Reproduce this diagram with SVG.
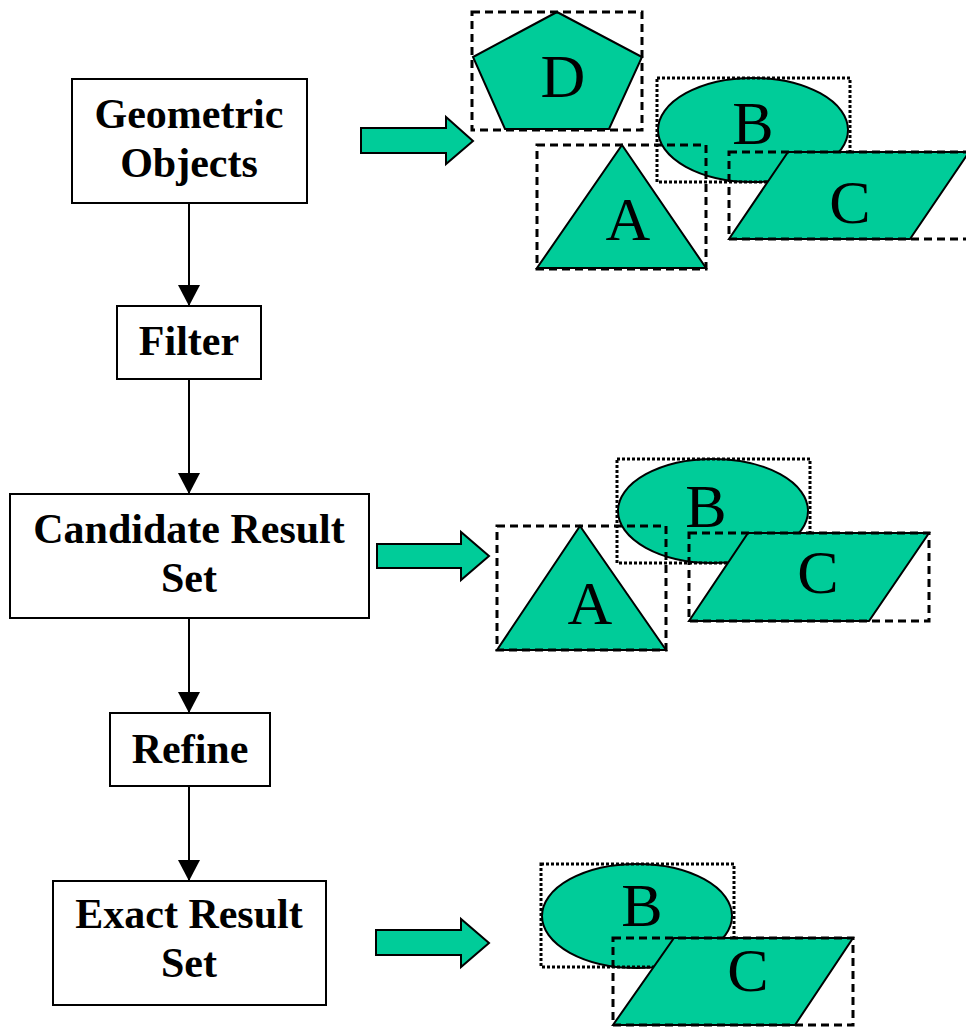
<svg xmlns="http://www.w3.org/2000/svg" width="966" height="1027" viewBox="0 0 966 1027">
<style>
.box{fill:#fff;stroke:#000;stroke-width:2}
.lbl{font-family:"Liberation Serif","Times New Roman",serif;font-weight:bold;font-size:42px;text-anchor:middle;fill:#000}
.shp{fill:#00CC99;stroke:#000;stroke-width:2;stroke-linejoin:miter}
.let{font-family:"Liberation Serif","Times New Roman",serif;font-size:62px;text-anchor:middle;fill:#000}
.dash{fill:none;stroke:#000;stroke-width:3;stroke-dasharray:8 5}
.dot{fill:none;stroke:#000;stroke-width:3;stroke-dasharray:3 2}
.conn{stroke:#000;stroke-width:2;fill:none}
.big{fill:#00CC99;stroke:#000;stroke-width:2;stroke-linejoin:miter}
</style>
<defs>
<marker id="ah" markerUnits="userSpaceOnUse" markerWidth="22" markerHeight="22" refX="21" refY="11" orient="auto">
<path d="M0,0 L21,11 L0,22 Z" fill="#000"/>
</marker>
</defs>
<g id="connectors">
<line class="conn" x1="189" y1="203" x2="189" y2="306" marker-end="url(#ah)"/>
<line class="conn" x1="189" y1="379" x2="189" y2="494" marker-end="url(#ah)"/>
<line class="conn" x1="189" y1="618" x2="189" y2="713" marker-end="url(#ah)"/>
<line class="conn" x1="189" y1="786" x2="189" y2="881" marker-end="url(#ah)"/>
</g>
<g id="geometric-objects">
<rect class="box" x="72" y="79" width="235" height="124"/>
<text class="lbl" x="189" y="128">Geometric</text>
<text class="lbl" x="189" y="177">Objects</text>
</g>
<g id="filter">
<rect class="box" x="117" y="306" width="144" height="73"/>
<text class="lbl" x="189" y="355">Filter</text>
</g>
<g id="candidate-result-set">
<rect class="box" x="10" y="494" width="359" height="124"/>
<text class="lbl" x="189" y="543">Candidate Result</text>
<text class="lbl" x="189" y="592">Set</text>
</g>
<g id="refine">
<rect class="box" x="110" y="713" width="160" height="73"/>
<text class="lbl" x="190" y="763">Refine</text>
</g>
<g id="exact-result-set">
<rect class="box" x="53" y="881" width="273" height="124"/>
<text class="lbl" x="189" y="928">Exact Result</text>
<text class="lbl" x="189" y="977">Set</text>
</g>
<g id="arrow-1">
<path class="big" d="M361,128 H446 V117 L473,141 L446,164 V153 H361 Z"/>
</g>
<g id="arrow-2">
<path class="big" d="M377,544 H461 V532 L489,556 L461,580 V568 H377 Z"/>
</g>
<g id="arrow-3">
<path class="big" d="M376,930 H461 V919 L489,943 L461,967 V955 H376 Z"/>
</g>
<g id="set-1">
<g id="s1-D">
<polygon class="shp" points="557,12 642,57 609,129 505,129 473,57"/>
<rect class="dash" x="472" y="12" width="170" height="118"/>
<text class="let" x="563" y="97">D</text>
</g>
<g id="s1-B">
<ellipse class="shp" cx="753" cy="130" rx="95" ry="52"/>
<rect class="dot" x="657" y="78" width="193" height="104"/>
<text class="let" x="753" y="144">B</text>
</g>
<g id="s1-A">
<polygon class="shp" points="622,145 706,268 537,268"/>
<rect class="dash" x="537" y="145" width="169" height="124"/>
<text class="let" x="628" y="240">A</text>
</g>
<g id="s1-C">
<polygon class="shp" points="788,152 969,152 910,239 729,239"/>
<rect class="dash" x="729" y="152" width="240" height="87"/>
<text class="let" x="850" y="223">C</text>
</g>
</g>
<g id="set-2">
<g id="s2-B">
<ellipse class="shp" cx="713" cy="511" rx="95" ry="52"/>
<rect class="dot" x="617" y="459" width="193" height="104"/>
<text class="let" x="706" y="527">B</text>
</g>
<g id="s2-A">
<polygon class="shp" points="580,526 666,650 497,650"/>
<rect class="dash" x="497" y="526" width="169" height="124"/>
<text class="let" x="590" y="624">A</text>
</g>
<g id="s2-C">
<polygon class="shp" points="748,533 929,533 869,621 689,621"/>
<rect class="dash" x="689" y="533" width="240" height="88"/>
<text class="let" x="818" y="593">C</text>
</g>
</g>
<g id="set-3">
<g id="s3-B">
<ellipse class="shp" cx="637" cy="916" rx="95" ry="52"/>
<rect class="dot" x="541" y="864" width="193" height="103"/>
<text class="let" x="642" y="926">B</text>
</g>
<g id="s3-C">
<polygon class="shp" points="674,938 853,938 795,1025 613,1025"/>
<rect class="dash" x="613" y="938" width="240" height="87"/>
<text class="let" x="748" y="991">C</text>
</g>
</g>
</svg>
